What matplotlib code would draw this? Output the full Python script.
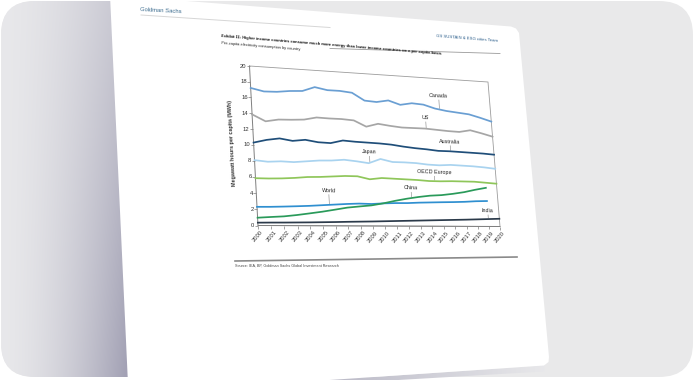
import numpy as np
import matplotlib
matplotlib.use("Agg")
import matplotlib.pyplot as plt
import matplotlib.transforms as mtransforms
from matplotlib.patches import FancyBboxPatch, Polygon

plt.rcParams['font.family'] = ['Liberation Sans Narrow', 'Liberation Sans', 'DejaVu Sans']

# ---- data (MWh per capita) ----
years = list(range(2000, 2021))
canada = [17.2, 16.85, 16.9, 17.1, 17.2, 17.8, 17.5, 17.5, 17.35, 16.4, 16.3,
          16.6, 16.1, 16.4, 16.3, 15.85, 15.6, 15.45, 15.3, 14.9, 14.45]
us = [13.85, 13.05, 13.35, 13.4, 13.5, 13.85, 13.8, 13.8, 13.7, 12.95, 13.4,
      13.2, 13.05, 13.05, 13.05, 12.95, 12.85, 12.8, 13.1, 12.75, 12.35]
australia = [10.3, 10.7, 10.95, 10.7, 10.9, 10.65, 10.6, 11.0, 10.9, 10.85, 10.8,
             10.7, 10.5, 10.35, 10.25, 10.1, 10.1, 10.05, 10.0, 9.95, 9.85]
japan = [8.1, 7.95, 8.05, 8.0, 8.15, 8.3, 8.35, 8.5, 8.35, 8.15, 8.75,
         8.4, 8.4, 8.35, 8.2, 8.15, 8.25, 8.2, 8.15, 8.05, 7.9]
oecd_europe = [5.85, 5.85, 5.9, 6.0, 6.15, 6.2, 6.3, 6.4, 6.4, 6.05, 6.25,
               6.2, 6.15, 6.1, 6.0, 6.0, 6.05, 6.05, 6.05, 5.95, 5.85]
world = [2.3, 2.32, 2.37, 2.43, 2.5, 2.6, 2.7, 2.8, 2.87, 2.84, 2.94,
         3.0, 3.02, 3.1, 3.15, 3.2, 3.24, 3.3, 3.4, 3.45]
china = [0.96, 1.06, 1.15, 1.33, 1.55, 1.78, 2.05, 2.33, 2.5, 2.66, 2.95,
         3.3, 3.6, 3.85, 4.05, 4.15, 4.35, 4.6, 4.95, 5.25]
india = [0.35, 0.37, 0.38, 0.4, 0.42, 0.45, 0.48, 0.52, 0.55, 0.58, 0.62,
         0.66, 0.7, 0.74, 0.78, 0.82, 0.86, 0.9, 0.95, 1.0, 1.05]

names = ["Canada", "US", "Australia", "Japan", "OECD Europe", "World", "China", "India"]
values = [canada, us, australia, japan, oecd_europe, world, china, india]
colors = ["#6a9fd3", "#a6a6a6", "#1f4e79", "#a9d3ef", "#8fc65a", "#2f8fd0", "#2a9a5a", "#2b3a4a"]
# label position (year, value); the leader drops from it to the line
label_pos = [(2015.4, 17.6), (2014.1, 14.5), (2016.1, 11.4), (2009.1, 9.6),
             (2014.5, 7.2), (2005.6, 4.5), (2012.4, 5.0), (2019.0, 2.1)]

x_ticks = list(range(2000, 2021))
y_ticks = list(range(0, 21, 2))
x_min, x_max, y_min, y_max = 2000, 2020, 0, 20

title = ("Exhibit 11: Higher income countries consume much more energy than "
         "lower income countries on a per capita basis")
subtitle = "Per-capita electricity consumption by country"
source = "Source: IEA, BP, Goldman Sachs Global Investment Research"


class Perspective(mtransforms.Transform):
    input_dims = 2
    output_dims = 2

    def __init__(self, H):
        super().__init__()
        self.H = H

    def transform_non_affine(self, values):
        xy = np.asarray(values, float).reshape(-1, 2)
        p = np.column_stack([xy, np.ones(len(xy))]) @ self.H.T
        return p[:, :2] / p[:, 2:]


def homography(src, dst):
    A, b = [], []
    for (u, v), (x, y) in zip(src, dst):
        A.append([u, v, 1, 0, 0, 0, -u * x, -v * x]); b.append(x)
        A.append([0, 0, 0, u, v, 1, -u * y, -v * y]); b.append(y)
    h = np.linalg.solve(np.array(A, float), np.array(b, float))
    return np.append(h, 1).reshape(3, 3)


W, Hgt = 694, 380
fig = plt.figure(figsize=(W / 100, Hgt / 100), dpi=100)
fig.patch.set_facecolor("white")
ax = fig.add_axes([0, 0, 1, 1])
ax.set_autoscale_on(False)
ax.set_xlim(0, W)
ax.set_ylim(Hgt, 0)
ax.axis("off")

# ---- screenshot backdrop: grey frame, shadows and the tilted page ----
frame = FancyBboxPatch((1, 1), W - 2, Hgt - 4, boxstyle="round,pad=0,rounding_size=34",
                       fc="#e9e9ea", ec="none", zorder=0)
ax.add_patch(frame)

gx, gy = np.meshgrid(np.linspace(0, 140, 140), np.linspace(0, Hgt, 190))
t = np.clip((gx / 125) ** 1.6 * (0.5 + 0.5 * gy / Hgt), 0, 1)[..., None]
light = np.array([0.91, 0.91, 0.92])
dark = np.array([0.64, 0.635, 0.71])
shade = ax.imshow(light * (1 - t) + dark * t, extent=[0, 140, Hgt, 0], aspect="auto", zorder=1)
shade.set_clip_path(frame)

bx = np.linspace(0, 1, 200)[None, :]
tb = np.clip(1 - bx, 0, 1)[..., None] * np.ones((10, 1, 1))
bshade = ax.imshow(light * (1 - tb * 0.75) + dark * tb * 0.75, extent=[300, 545, 384, 362],
                   aspect="auto", zorder=1)
bpoly = Polygon([(300, 382), (544, 365.5), (552, 371), (330, 384)], closed=True,
                fc="none", ec="none", transform=ax.transData)
ax.add_patch(bpoly)
bshade.set_clip_path(bpoly)

page = Polygon([(110, -5), (511, 26.5), (516, 28.5), (519, 33), (549, 357), (548.5, 362),
                (544, 365.5), (300, 382), (128, 384)], closed=True, fc="white", ec="none", zorder=2)
ax.add_patch(page)
page.set_clip_path(frame)

# ---- page header / footer ----
ax.text(140, 11, "Goldman Sachs", fontsize=4.2, color="#3b6b8e", rotation=-3,
        va="center", ha="left", zorder=5)
ax.plot([141, 330], [15, 27.5], color="#d6d6d6", lw=0.7, zorder=4)
ax.text(221, 36, title, fontsize=2.85, fontweight="bold", color="#111111", rotation=-4.6,
        va="center", ha="left", rotation_mode="anchor", zorder=5)
ax.text(221, 43.5, subtitle, fontsize=2.9, color="#222222", rotation=-4.6,
        va="center", ha="left", rotation_mode="anchor", zorder=5)
ax.text(498, 41, "GS SUSTAIN & ESG cities Team", fontsize=3.1, color="#2d5f8c", rotation=-4.5,
        va="center", ha="right", rotation_mode="anchor", zorder=5)
ax.plot([330, 500], [48.5, 53.5], color="#9a9a9a", lw=0.6, zorder=4)
ax.plot([235, 517], [261, 257], color="#8a8a8a", lw=1.2, zorder=4)
ax.text(235, 265.5, source, fontsize=2.7, color="#444444", va="center", ha="left", zorder=5)

# ---- the chart, seen in perspective ----
Hm = homography([(0, 0), (1, 0), (1, 1), (0, 1)],
                [(258, 225.5), (500, 226.5), (488, 82), (249.5, 66)])
norm = mtransforms.Affine2D().translate(-x_min, -y_min).scale(1 / (x_max - x_min), 1 / (y_max - y_min))
tr = norm + Perspective(Hm) + ax.transData


def off(dx, dy):
    return mtransforms.Affine2D().translate(dx, -dy)


# plot frame
ax.plot([x_min, x_max, x_max, x_min], [y_min, y_min, y_max, y_max], color="#9c9c9c", lw=0.6,
        transform=tr, zorder=4)
ax.plot([x_min, x_min, x_max], [y_max, y_min, y_min], color="#7f7f7f", lw=0.7,
        transform=tr, zorder=4)
ax.plot(np.full(len(y_ticks), x_min), y_ticks, ls="none", marker=0, ms=2.2, mew=0.5,
        color="#7f7f7f", transform=tr, zorder=4)
ax.plot(x_ticks, np.full(len(x_ticks), y_min), ls="none", marker=3, ms=1.8, mew=0.5,
        color="#7f7f7f", transform=tr, zorder=4)

for v in y_ticks:
    ax.text(x_min, v, str(v), transform=tr + off(-3.5, 0), fontsize=4.2, color="#333333",
            ha="right", va="center", zorder=5)
for yr in x_ticks:
    ax.text(yr, y_min, str(yr), transform=tr + off(2.5, 4), fontsize=4.2, color="#333333",
            rotation=50, ha="right", va="top", rotation_mode="anchor", zorder=5)

ax.text(232, 143, "Megawatt hours per capita (MWh)", fontsize=3.9, fontweight="bold",
        color="#333333", rotation=93, ha="center", va="center", zorder=5)

for name, vals, col in zip(names, values, colors):
    ax.plot(years[:len(vals)], vals, color=col, lw=1.25, transform=tr, zorder=6,
            solid_joinstyle="round")

for name, vals, (lx, ly) in zip(names, values, label_pos):
    line_v = np.interp(lx, years[:len(vals)], vals)
    ax.text(lx, ly, name, transform=tr, fontsize=3.9, color="#222222", rotation=-2,
            ha="center", va="center", zorder=7)
    ax.plot([lx, lx], [ly - 0.55, line_v + 0.15], color="#9a9a9a", lw=0.5, transform=tr, zorder=5)

ax.set_xlim(0, W)
ax.set_ylim(Hgt, 0)
fig.savefig("out.png", dpi=100, facecolor=fig.get_facecolor())
